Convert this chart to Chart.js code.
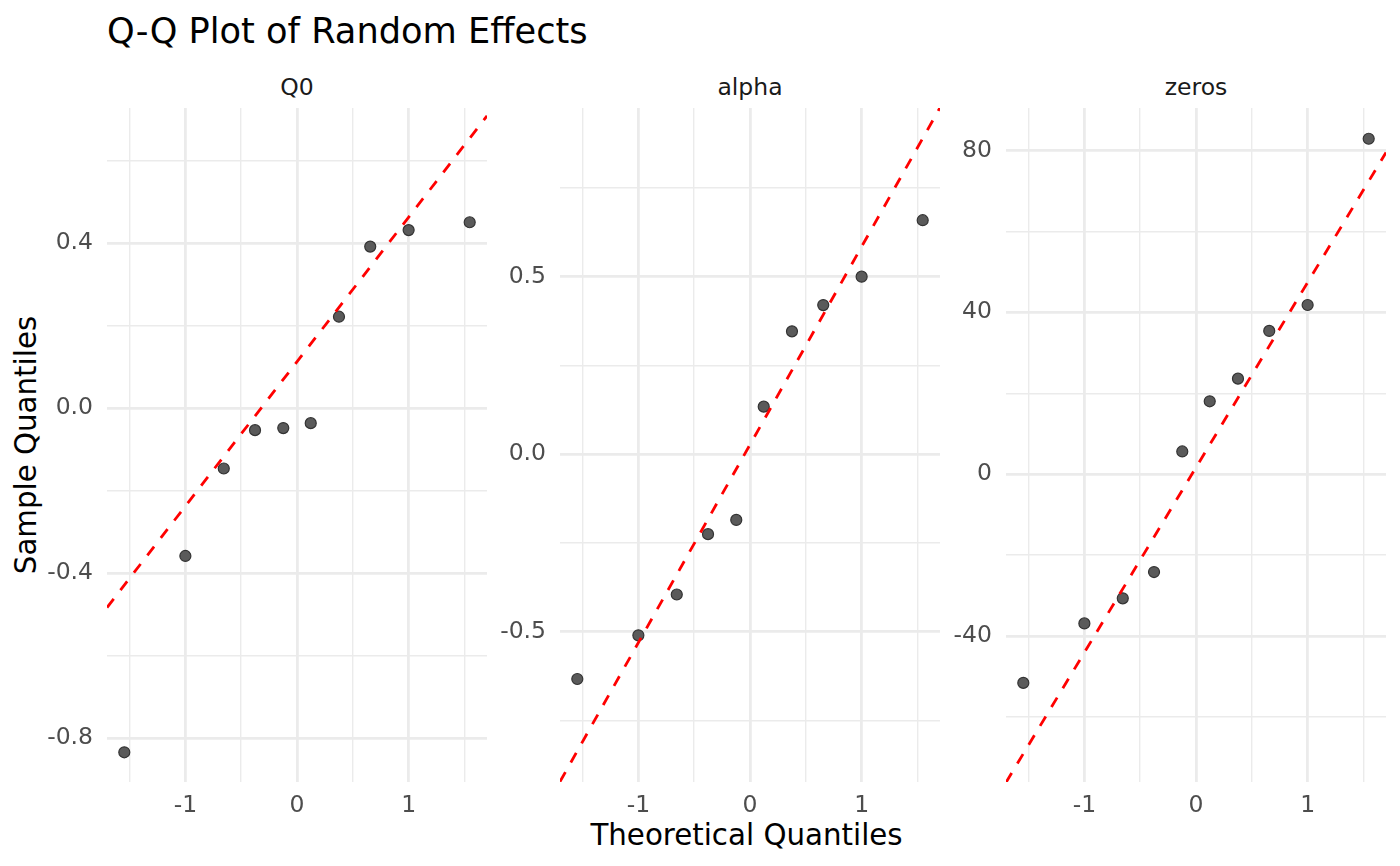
<!DOCTYPE html>
<html>
<head>
<meta charset="utf-8">
<title>Q-Q Plot of Random Effects</title>
<script src="https://cdn.jsdelivr.net/npm/chart.js@4.4.1/dist/chart.umd.min.js"></script>
<style>
    html, body { margin: 0; padding: 0; background: #ffffff; }
    body { width: 1400px; height: 866px; position: relative; overflow: hidden;
           font-family: "DejaVu Sans", sans-serif; }
    .txt { position: absolute; white-space: nowrap; line-height: normal; }
    .panel { position: absolute; }
</style>
</head>
<body>

<div class="txt" id="plotTitle" style="left:107px; top:10px; font-size:35.2px; color:#000;">Q-Q Plot of Random Effects</div>

<div class="txt" style="left:107px; width:380px; top:73px; text-align:center; font-size:23.5px; color:#1a1a1a;">Q0</div>
<div class="txt" style="left:560px; width:380px; top:73px; text-align:center; font-size:23.5px; color:#1a1a1a;">alpha</div>
<div class="txt" style="left:1006px; width:380px; top:73px; text-align:center; font-size:23.5px; color:#1a1a1a;">zeros</div>

<div class="txt" style="left:-174px; top:428px; width:400px; text-align:center; font-size:29.3px; color:#000; transform:rotate(-90deg);">Sample Quantiles</div>
<div class="txt" style="left:107px; width:1279px; top:818px; text-align:center; font-size:29.3px; color:#000;">Theoretical Quantiles</div>

<div class="panel" id="wrapQ0"><canvas id="chartQ0"></canvas></div>
<div class="panel" id="wrapAlpha"><canvas id="chartAlpha"></canvas></div>
<div class="panel" id="wrapZeros"><canvas id="chartZeros"></canvas></div>

<script>
// ---- data ----
const theoreticalQ = [-1.547, -1.000, -0.656, -0.376, -0.123, 0.123, 0.376, 0.656, 1.000, 1.547];

const q0Sample    = [-0.834, -0.358, -0.146, -0.053, -0.048, -0.036, 0.222, 0.392, 0.432, 0.451];
const alphaSample = [-0.633, -0.510, -0.395, -0.225, -0.185, 0.134, 0.346, 0.420, 0.500, 0.659];
const zerosSample = [-51.6, -36.9, -30.7, -24.2, 5.6, 18.0, 23.6, 35.4, 41.8, 82.9];

// reference line: y at the two ends of the x range
const lineX     = [-1.702, 1.702];
const q0Line    = [-0.483, 0.709];
const alphaLine = [-0.922, 0.976];
const zerosLine = [-76.2, 79.5];

// x axis (shared)
const xRange      = [-1.702, 1.702];
const xMajor      = [-1, 0, 1];
const xMajorLabel = ['-1', '0', '1'];
const xMinor      = [-1.5, -0.5, 0.5, 1.5];

// y axes per facet
const q0Range      = [-0.906, 0.728];
const q0Major      = [-0.8, -0.4, 0, 0.4];
const q0MajorLabel = ['-0.8', '-0.4', '0.0', '0.4'];
const q0Minor      = [-0.6, -0.2, 0.2, 0.6];

const alphaRange      = [-0.923, 0.975];
const alphaMajor      = [-0.5, 0, 0.5];
const alphaMajorLabel = ['-0.5', '0.0', '0.5'];
const alphaMinor      = [-0.75, -0.25, 0.25, 0.75];

const zerosRange      = [-76.1, 90.5];
const zerosMajor      = [-40, 0, 40, 80];
const zerosMajorLabel = ['-40', '0', '40', '80'];
const zerosMinor      = [-60, -20, 20, 60];

// ---- layout ----
const PANEL_TOP = 108;
const PANEL_W = 380;
const PANEL_H = 674;
const Y_AXIS_W = 100;
const X_AXIS_H = 60;
const PAD = 10;

const GRID = '#ebebeb';
const TICK_TEXT = '#4d4d4d';

function isIn(list, v) {
    return list.some(t => Math.abs(t - v) < 1e-9);
}

function labelFor(values, labels, v) {
    const i = values.findIndex(t => Math.abs(t - v) < 1e-9);
    return i >= 0 ? labels[i] : '';
}

function axisOptions(range, major, majorLabel, minor, isX) {
    const all = major.concat(minor).sort((a, b) => a - b);
    return {
        type: 'linear',
        position: isX ? 'bottom' : 'left',
        min: range[0],
        max: range[1],
        afterBuildTicks: (scale) => {
            scale.ticks = all.map(v => ({ value: v }));
        },
        afterFit: (scale) => {
            // fixed axis size, no extra room for overhanging labels
            if (isX) scale.height = X_AXIS_H;
            else scale.width = Y_AXIS_W;
            scale.paddingTop = 0;
            scale.paddingBottom = 0;
            scale.paddingLeft = 0;
            scale.paddingRight = 0;
        },
        border: { display: false },
        grid: {
            color: GRID,
            drawTicks: false,
            lineWidth: (ctx) => (ctx.tick && isIn(major, ctx.tick.value)) ? 2.8 : 1.4
        },
        ticks: {
            autoSkip: false,
            maxRotation: 0,
            padding: isX ? 10 : 14,
            color: TICK_TEXT,
            font: { family: 'DejaVu Sans', size: 23.5 },
            callback: (value) => labelFor(major, majorLabel, value)
        }
    };
}

function makeFacet(canvasId, wrapId, left, sample, lineY, yRange, yMajor, yMajorLabel, yMinor) {
    const wrap = document.getElementById(wrapId);
    wrap.style.left = (left - Y_AXIS_W) + 'px';
    wrap.style.top = (PANEL_TOP - PAD) + 'px';
    wrap.style.width = (Y_AXIS_W + PANEL_W + PAD) + 'px';
    wrap.style.height = (PAD + PANEL_H + X_AXIS_H) + 'px';

    const points = theoreticalQ.map((x, i) => ({ x: x, y: sample[i] }));
    const line = lineX.map((x, i) => ({ x: x, y: lineY[i] }));

    return new Chart(document.getElementById(canvasId), {
        type: 'scatter',
        data: {
            datasets: [
                {
                    label: 'qq line',
                    data: line,
                    showLine: true,
                    borderColor: '#ff0000',
                    borderWidth: 2.8,
                    borderDash: [11, 11],
                    borderCapStyle: 'butt',
                    pointRadius: 0,
                    pointHoverRadius: 0,
                    clip: 0,
                    order: 0
                },
                {
                    label: 'sample',
                    data: points,
                    backgroundColor: '#5a5a5a',
                    borderColor: '#333333',
                    borderWidth: 1.2,
                    pointRadius: 5.5,
                    pointHoverRadius: 5.5,
                    order: 1
                }
            ]
        },
        options: {
            responsive: true,
            maintainAspectRatio: false,
            animation: false,
            events: [],
            layout: { padding: { left: 0, right: PAD, top: PAD, bottom: 0 } },
            plugins: {
                legend: { display: false },
                tooltip: { enabled: false }
            },
            scales: {
                x: axisOptions(xRange, xMajor, xMajorLabel, xMinor, true),
                y: axisOptions(yRange, yMajor, yMajorLabel, yMinor, false)
            }
        }
    });
}

makeFacet('chartQ0', 'wrapQ0', 107, q0Sample, q0Line, q0Range, q0Major, q0MajorLabel, q0Minor);
makeFacet('chartAlpha', 'wrapAlpha', 560, alphaSample, alphaLine, alphaRange, alphaMajor, alphaMajorLabel, alphaMinor);
makeFacet('chartZeros', 'wrapZeros', 1006, zerosSample, zerosLine, zerosRange, zerosMajor, zerosMajorLabel, zerosMinor);
</script>
</body>
</html>
